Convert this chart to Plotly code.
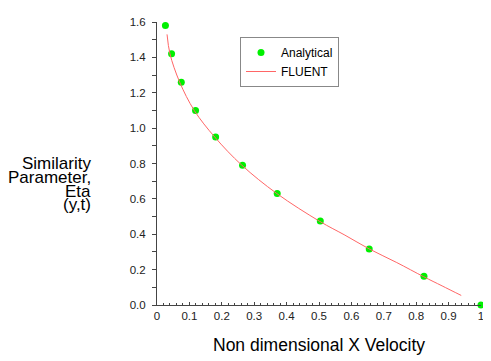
import plotly.graph_objects as go

# Analytical solution points
analytical_x = [0.026, 0.045, 0.075, 0.119, 0.181, 0.264, 0.371, 0.504, 0.655, 0.824, 1.0]
analytical_y = [1.58, 1.42, 1.26, 1.10, 0.95, 0.79, 0.63, 0.475, 0.317, 0.162, 0.0]

# FLUENT solution curve
fluent_x = [0.031, 0.040, 0.070, 0.115, 0.178, 0.262, 0.370, 0.503, 0.580, 0.655, 0.740, 0.823, 0.880, 0.939]
fluent_y = [1.53, 1.42, 1.26, 1.10, 0.95, 0.79, 0.63, 0.472, 0.395, 0.317, 0.240, 0.160, 0.108, 0.054]

x_ticks = [0, 0.1, 0.2, 0.3, 0.4, 0.5, 0.6, 0.7, 0.8, 0.9, 1]
x_tick_labels = ["0", "0.1", "0.2", "0.3", "0.4", "0.5", "0.6", "0.7", "0.8", "0.9", "1"]
y_ticks = [0, 0.2, 0.4, 0.6, 0.8, 1.0, 1.2, 1.4, 1.6]
y_tick_labels = ["0.0", "0.2", "0.4", "0.6", "0.8", "1.0", "1.2", "1.4", "1.6"]
y_title_lines = ["Similarity", "Parameter,", "Eta", "(y,t)"]
x_title = "Non dimensional X Velocity"

FONT = "Liberation Sans, Arial, sans-serif"

# page body has an 8px default margin; lay out the figure in page coords minus this offset
OFF = 8
W, H = 491 - OFF, 361 - OFF
plot_left, plot_right, plot_top, plot_bottom = 157 - OFF, 481 - OFF, 22 - OFF, 305 - OFF
ml, mr, mt, mb = plot_left, W - plot_right, plot_top, H - plot_bottom
pw, ph = W - ml - mr, H - mt - mb

def px_x(p):
    return (p - OFF - ml) / pw

def px_y(p):
    return (H - mb - (p - OFF)) / ph

fig = go.Figure()
fig.add_trace(go.Scatter(
    x=analytical_x, y=analytical_y, mode="markers", name="Analytical",
    marker=dict(color="#00f000", size=7, line=dict(width=0)),
    cliponaxis=False,
))
fig.add_trace(go.Scatter(
    x=fluent_x, y=fluent_y, mode="lines", name="FLUENT",
    line=dict(color="#ff6666", width=1, shape="spline"),
))

fig.update_layout(
    width=W, height=H,
    margin=dict(l=ml, r=mr, t=mt, b=mb, pad=0, autoexpand=False),
    paper_bgcolor="white", plot_bgcolor="white",
    font=dict(family=FONT, size=11, color="#222"),
    showlegend=True,
    legend=dict(
        x=px_x(240), y=px_y(37), xanchor="left", yanchor="top",
        bgcolor="white", bordercolor="#888", borderwidth=1,
        font=dict(size=12, color="#000"),
        itemwidth=30, tracegroupgap=0,
    ),
)
fig.update_xaxes(
    range=[0, 1], tickmode="array", tickvals=x_ticks, ticktext=x_tick_labels,
    showgrid=False, zeroline=False, showline=True, linecolor="#444", linewidth=1,
    ticks="inside", ticklen=3, tickcolor="#444",
    minor=dict(ticks="inside", ticklen=2, tickcolor="#444", dtick=0.02, showgrid=False),
    tickfont=dict(size=11.5, color="#222"), automargin=False,
)
fig.update_yaxes(
    range=[0, 1.6], tickmode="array", tickvals=y_ticks, ticktext=y_tick_labels,
    showgrid=False, zeroline=False, showline=True, linecolor="#444", linewidth=1,
    ticks="outside", ticklen=4, tickcolor="#444",
    minor=dict(ticks="outside", ticklen=4, tickcolor="#444", dtick=0.1, showgrid=False),
    tickfont=dict(size=11.5, color="#222"), ticklabelstandoff=4, automargin=False,
)

# X-axis title
fig.add_annotation(
    text=x_title, xref="paper", yref="paper",
    x=px_x(319), y=px_y(345), xanchor="center", yanchor="middle", showarrow=False,
    font=dict(size=17.5, color="#000", family=FONT),
)

# Y-axis title as right-aligned horizontal lines
y_positions = [163.5, 177.5, 191, 204.5]
for txt, yp in zip(y_title_lines, y_positions):
    fig.add_annotation(
        text=txt, xref="paper", yref="paper",
        x=px_x(93), y=px_y(yp),
        xanchor="right", yanchor="middle", showarrow=False,
        font=dict(size=17, color="#000", family=FONT),
    )

fig.write_html("out.html")
